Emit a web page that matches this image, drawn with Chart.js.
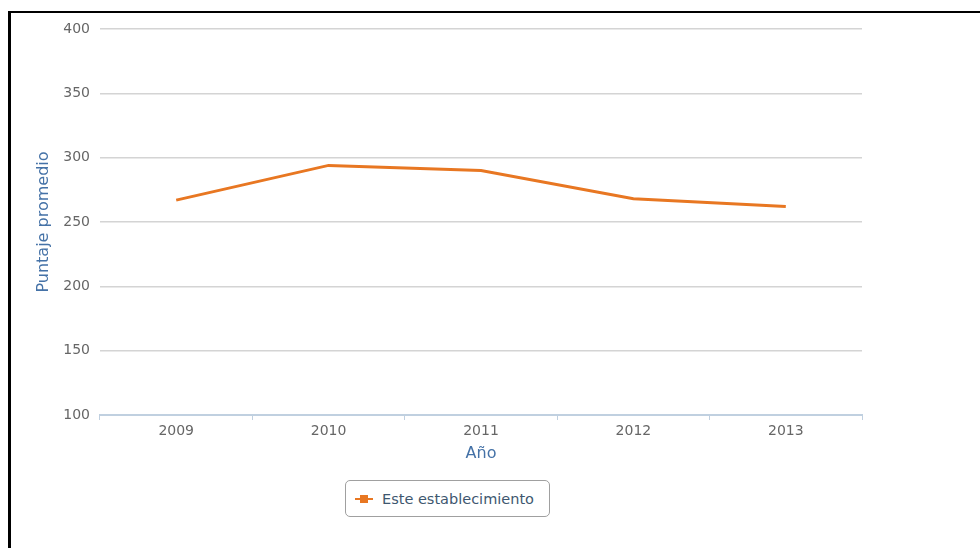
<!DOCTYPE html>
<html>
<head>
<meta charset="utf-8">
<script src="https://cdn.jsdelivr.net/npm/chart.js@4.4.1/dist/chart.umd.min.js"></script>
<style>
    body { margin: 0; background: #fff; }
    #marco {
        position: absolute; left: 8px; top: 11px; width: 980px; height: 548px;
        border-left: 3px solid #000; border-top: 2px solid #000;
    }
    #contenedor { position: absolute; left: 0; top: 0; width: 980px; height: 470px; }
    #leyenda {
        position: absolute; left: 345px; top: 480px; width: 205px; height: 37px;
        border: 1px solid #a0a0a0; border-radius: 5px; box-sizing: border-box;
        font-family: "DejaVu Sans", sans-serif; font-size: 14.5px; color: #3e576f;
        display: flex; align-items: center; padding-left: 9px;
    }
    #leyenda .marca { position: relative; width: 18px; height: 10px; margin-right: 9px; }
    #leyenda .marca::before {
        content: ""; position: absolute; left: 0; top: 4px; width: 18px; height: 2px; background: #e87722;
    }
    #leyenda .marca::after {
        content: ""; position: absolute; left: 5px; top: 1px; width: 8px; height: 8px; background: #e87722;
    }
</style>
</head>
<body>
<div id="marco"></div>
<div id="contenedor"><canvas id="grafico"></canvas></div>
<div id="leyenda"><span class="marca"></span><span id="nombre_serie"></span></div>

<script>
const anios = ["2009", "2010", "2011", "2012", "2013"]
const nombreSerie = "Este establecimiento"
const puntajes = [267, 294, 290, 268, 262]

const colorLinea = "#e87722"
const colorTitulo = "#4572a7"
const fuente = "'DejaVu Sans', sans-serif"

document.getElementById("nombre_serie").innerText = nombreSerie

const grafico = document.getElementById("grafico")

new Chart(grafico, {
    type: "line",
    data: {
        labels: anios,
        datasets: [{
            label: nombreSerie,
            data: puntajes,
            borderColor: colorLinea,
            backgroundColor: colorLinea,
            borderWidth: 3,
            pointRadius: 0,
            tension: 0
        }]
    },
    options: {
        responsive: true,
        maintainAspectRatio: false,
        animation: false,
        layout: { padding: { left: 30, top: 29, right: 118, bottom: 0 } },
        plugins: {
            legend: { display: false },
            tooltip: { enabled: false }
        },
        scales: {
            x: {
                offset: true,
                grid: {
                    offset: true,
                    drawOnChartArea: false,
                    tickLength: 5,
                    color: "#c0d0e0"
                },
                border: { color: "#c0d0e0", width: 2 },
                ticks: { color: "#666", font: { family: fuente, size: 14 }, padding: 3 },
                title: {
                    display: true,
                    text: "Año",
                    color: colorTitulo,
                    font: { family: fuente, size: 16 },
                    padding: { top: 0, bottom: 7 }
                },
                afterFit: (escala) => { escala.height = 55 }
            },
            y: {
                min: 100,
                max: 400,
                ticks: { stepSize: 50, color: "#666", font: { family: fuente, size: 14 }, padding: 10 },
                grid: { color: "#d4d4d4", lineWidth: 1.5, drawTicks: false },
                border: { display: false },
                title: {
                    display: true,
                    text: "Puntaje promedio",
                    color: colorTitulo,
                    font: { family: fuente, size: 16 },
                    padding: 4
                },
                afterFit: (escala) => { escala.width = 70 }
            }
        }
    }
})
</script>
</body>
</html>
